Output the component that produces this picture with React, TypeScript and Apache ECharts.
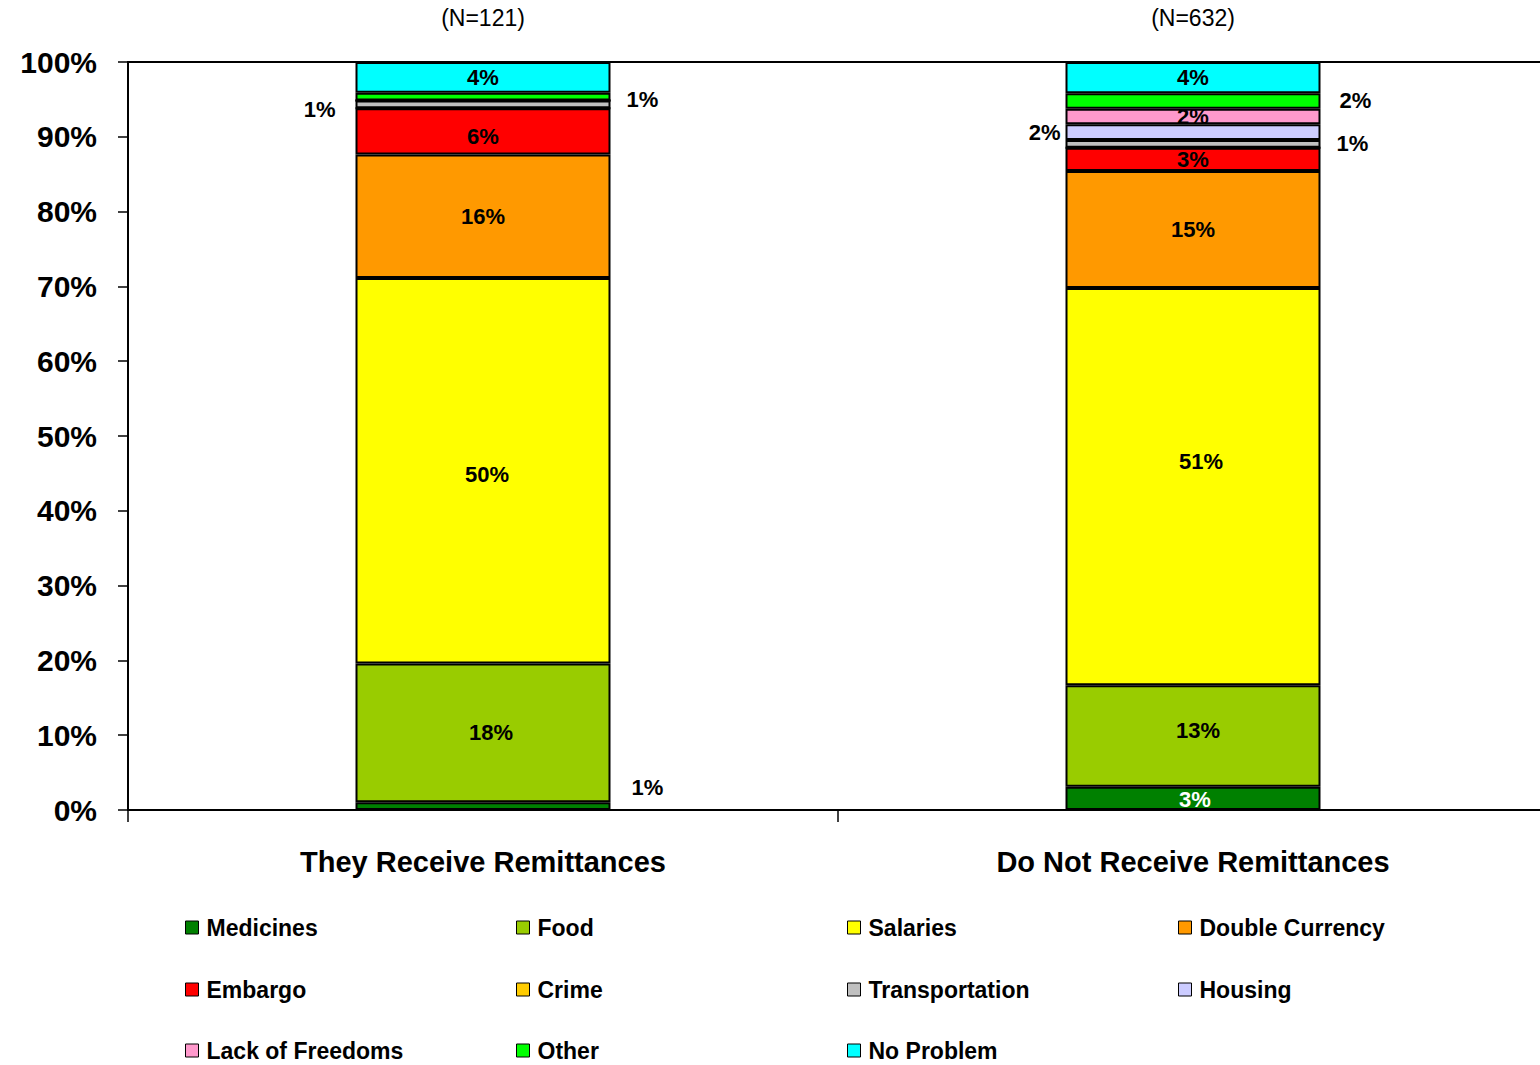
import React, { useEffect, useRef } from "react";
import * as echarts from "echarts";

const categories = ["They Receive Remittances", "Do Not Receive Remittances"];
const sampleSizes = ["(N=121)", "(N=632)"];

const seriesNames = [
  "Medicines",
  "Food",
  "Salaries",
  "Double Currency",
  "Embargo",
  "Crime",
  "Transportation",
  "Housing",
  "Lack of Freedoms",
  "Other",
  "No Problem",
];

// raw percentages shown in the labels (chart is a 100% stacked bar)
const medicines = [1, 3];
const food = [18, 13];
const salaries = [50, 51];
const doubleCurrency = [16, 15];
const embargo = [6, 3];
const crime = [0, 0];
const transportation = [1, 1];
const housing = [0, 2];
const lackOfFreedoms = [0, 2];
const other = [1, 2];
const noProblem = [4, 4];

const seriesValues = [
  medicines,
  food,
  salaries,
  doubleCurrency,
  embargo,
  crime,
  transportation,
  housing,
  lackOfFreedoms,
  other,
  noProblem,
];

const seriesColors = [
  "#008000",
  "#99CC00",
  "#FFFF00",
  "#FF9900",
  "#FF0000",
  "#FFCC00",
  "#C0C0C0",
  "#CCCCFF",
  "#FF99CC",
  "#00FF00",
  "#00FFFF",
];

const FONT = "'Liberation Sans', Arial, sans-serif";

// legend layout (4 columns x 3 rows)
const legendColumnX = [185, 516, 847, 1178];
const legendRowCenters = [927, 989, 1050];

// label placement tweaks (layout only)
const labelPlacement: Record<string, any> = {
  "Medicines-0": { position: "right", distance: 21, offset: [0, -19] },
  "Medicines-1": { color: "#FFFFFF", offset: [2, 1] },
  "Food-0": { offset: [8, 0] },
  "Food-1": { offset: [5, -5] },
  "Salaries-0": { offset: [4, 4] },
  "Salaries-1": { offset: [8, -25] },
  "Embargo-0": { offset: [0, 5] },
  "Transportation-0": { position: "left", distance: 20, offset: [0, 5] },
  "Other-0": { position: "right", distance: 16, offset: [0, 3] },
  "Transportation-1": { position: "right", distance: 16 },
  "Housing-1": { position: "left", distance: 5 },
  "Other-1": { position: "right", distance: 19 },
};

export default function App() {
  const ref = useRef<HTMLDivElement>(null);

  useEffect(() => {
    if (!ref.current) return;
    const chart = echarts.init(ref.current, undefined, { renderer: "svg" });

    const totals = categories.map((_, ci) =>
      seriesValues.reduce((s, arr) => s + arr[ci], 0)
    );

    const series = seriesNames.map((name, si) => ({
      name,
      type: "bar",
      stack: "total",
      barWidth: 255,
      itemStyle: {
        color: seriesColors[si],
        borderColor: "#000",
        borderWidth: 2,
      },
      emphasis: { disabled: true },
      label: {
        show: true,
        position: "inside",
        color: "#000",
        fontFamily: FONT,
        fontWeight: "bold",
        fontSize: 22,
        textBorderWidth: 0,
        formatter: (p: any) => `${seriesValues[p.seriesIndex][p.dataIndex]}%`,
      },
      data: seriesValues[si].map((v, ci) => {
        const extra = labelPlacement[`${name}-${ci}`] || {};
        return {
          value: (v / totals[ci]) * 100,
          label: v === 0 ? { show: false } : extra,
        };
      }),
    }));

    const legends = seriesNames.map((name, i) => ({
      data: [name],
      orient: "horizontal",
      left: legendColumnX[i % 4],
      top: legendRowCenters[Math.floor(i / 4)] - 11,
      padding: 0,
      icon: "rect",
      itemWidth: 13,
      itemHeight: 13,
      itemStyle: { borderColor: "#000", borderWidth: 1 },
      textStyle: {
        fontFamily: FONT,
        fontWeight: "bold",
        fontSize: 23,
        lineHeight: 22,
        color: "#000",
        padding: [0, 0, 0, 3],
      },
      selectedMode: false,
    }));

    chart.setOption({
      animation: false,
      backgroundColor: "#fff",
      textStyle: { fontFamily: FONT },
      grid: {
        left: 128,
        top: 62,
        width: 1420,
        height: 748,
        show: true,
        borderColor: "#000",
        borderWidth: 2,
        backgroundColor: "transparent",
      },
      legend: legends,
      xAxis: [
        {
          type: "category",
          data: categories,
          position: "bottom",
          axisLine: { show: true, lineStyle: { color: "#000", width: 2 } },
          axisTick: { show: true, length: 12, lineStyle: { color: "#000", width: 1.5 } },
          axisLabel: {
            color: "#000",
            fontFamily: FONT,
            fontWeight: "bold",
            fontSize: 29,
            margin: 37,
          },
        },
        {
          type: "category",
          data: sampleSizes,
          position: "top",
          axisLine: { show: false },
          axisTick: { show: false },
          axisLabel: {
            color: "#000",
            fontFamily: FONT,
            fontSize: 23,
            margin: 33,
          },
        },
      ],
      yAxis: {
        type: "value",
        min: 0,
        max: 100,
        interval: 10,
        splitLine: { show: false },
        axisLine: { show: true, lineStyle: { color: "#000", width: 2 } },
        axisTick: { show: true, length: 10, lineStyle: { color: "#000", width: 1.5 } },
        axisLabel: {
          formatter: "{value}%",
          color: "#000",
          fontFamily: FONT,
          fontWeight: "bold",
          fontSize: 30,
          margin: 31,
        },
      },
      series,
    });

    return () => chart.dispose();
  }, []);

  return (
    <div
      ref={ref}
      style={{ position: "fixed", left: 0, top: 0, width: 1560, height: 1065 }}
    />
  );
}
